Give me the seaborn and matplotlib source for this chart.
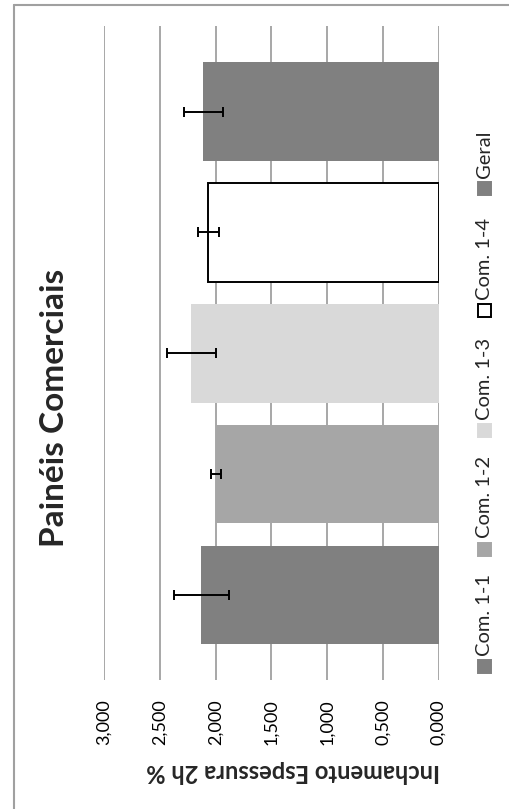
import matplotlib
matplotlib.use("Agg")
import matplotlib.pyplot as plt
from matplotlib.lines import Line2D
from matplotlib.patches import Rectangle
import seaborn as sns
import pandas as pd

# Thickness swelling after 2 h for the commercial panels
categories = ["Com. 1-1", "Com. 1-2", "Com. 1-3", "Com. 1-4", "Geral"]
means = [2.126, 1.997, 2.216, 2.067, 2.111]
errors = [0.247, 0.045, 0.217, 0.094, 0.175]
colors = ["#808080", "#a6a6a6", "#d9d9d9", "#ffffff", "#808080"]
tick_values = [0.0, 0.5, 1.0, 1.5, 2.0, 2.5, 3.0]
tick_labels = ["0,000", "0,500", "1,000", "1,500", "2,000", "2,500", "3,000"]
title = "Painéis Comerciais"
value_label = "Inchamento Espessura 2h %"

sns.set_theme(style="white")
plt.rcParams["font.family"] = ["Lato", "DejaVu Sans"]

W, H = 510, 809
fig = plt.figure(figsize=(W / 100, H / 100), dpi=100)
fig.patch.set_facecolor("white")


def fx(px):
    return px / W


def fy(py):
    return 1 - py / H


ax = fig.add_axes([fx(104), fy(680), fx(438.5) - fx(104), fy(26) - fy(680)])

df = pd.DataFrame({"cat": categories, "val": means})
order = categories[::-1]
palette = dict(zip(categories, colors))
sns.barplot(data=df, x="val", y="cat", hue="cat", order=order, hue_order=categories,
            palette=palette, orient="h", width=0.817, dodge=False, legend=False,
            errorbar=None, saturation=1, linewidth=0, ax=ax, zorder=2)

# outline the white bar
for patch in ax.patches:
    if abs(patch.get_y() + patch.get_height() / 2 - order.index("Com. 1-4")) < 0.01:
        patch.set_edgecolor("black")
        patch.set_linewidth(1.4)

ypos = [order.index(c) for c in categories]
ax.errorbar(means, ypos, xerr=errors, fmt="none", ecolor="black",
            elinewidth=1.4, capsize=3.6, capthick=1.4, zorder=3)

ax.set_xlim(3.0, 0.0)
ax.set_ylim(4.704, -0.709)
ax.set_xticks(tick_values)
ax.set_xticklabels(tick_labels, rotation=90, fontsize=13)
ax.tick_params(axis="x", length=0, pad=14, colors="#000000")
ax.set_yticks([])
ax.set_xlabel("")
ax.set_ylabel("")
ax.grid(axis="x", color="#a0a0a0", linewidth=1.3, zorder=0)
ax.set_axisbelow(True)
for s in ax.spines.values():
    s.set_visible(False)

fig.text(fx(55), fy(408), title, rotation=90, ha="center", va="center",
         fontsize=24, fontweight="bold")
fig.text(fx(293), fy(771), value_label, rotation=180, ha="center", va="center",
         fontsize=17, fontweight="bold")

# legend, laid out along the category direction
legend_y = [666, 549, 430, 310, 188]
msz = 13
for cat, col, yc in zip(categories, colors, legend_y):
    ec = "black" if col == "#ffffff" else col
    fig.add_artist(Rectangle((fx(485 - msz / 2), fy(yc + msz / 2)), msz / W, msz / H,
                             facecolor=col, edgecolor=ec, linewidth=1.4,
                             transform=fig.transFigure))
    fig.text(fx(485), fy(yc - msz / 2 - 4), cat, rotation=90, ha="center", va="bottom",
             fontsize=14.5)

# chart border
fig.add_artist(Line2D([fx(14), fx(14)], [fy(5), 0], color="#a0a0a0", linewidth=1.5,
                      transform=fig.transFigure))
fig.add_artist(Line2D([fx(14), 1], [fy(5), fy(5)], color="#a0a0a0", linewidth=1.5,
                      transform=fig.transFigure))

fig.savefig("out.png", dpi=100, facecolor="white")
